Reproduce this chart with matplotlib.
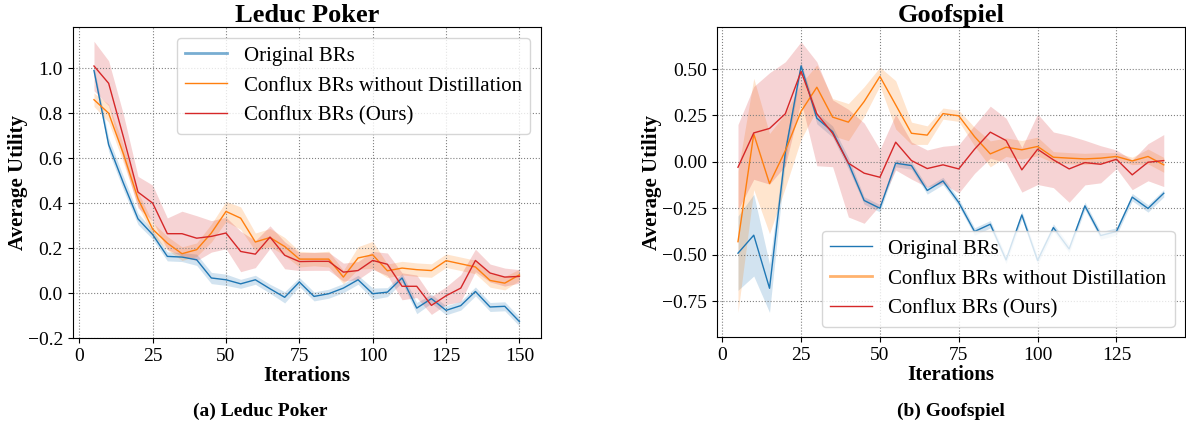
import numpy as np
import matplotlib
matplotlib.use('Agg')
import matplotlib.pyplot as plt

plt.rcParams['font.family'] = ['Liberation Serif', 'DejaVu Serif']

# Leduc Poker
leduc_x = list(range(5, 155, 5))
leduc_orig = [0.99, 0.66, 0.49, 0.33, 0.26, 0.163, 0.16, 0.148, 0.067, 0.059,
              0.041, 0.059, 0.019, -0.019, 0.049, -0.015, -0.003, 0.022, 0.059, -0.003,
              0.004, 0.067, -0.067, -0.025, -0.077, -0.056, 0.007, -0.062, -0.059, -0.127]
leduc_orig_sd = [0.02, 0.03, 0.03, 0.025, 0.02, 0.02, 0.02, 0.025, 0.025, 0.025,
                 0.02, 0.02, 0.02, 0.025, 0.02, 0.02, 0.02, 0.02, 0.02, 0.025,
                 0.02, 0.02, 0.025, 0.02, 0.02, 0.02, 0.02, 0.02, 0.02, 0.02]
leduc_nodist = [0.86, 0.80, 0.62, 0.42, 0.284, 0.222, 0.175, 0.193, 0.267, 0.363,
                0.333, 0.227, 0.247, 0.207, 0.151, 0.151, 0.151, 0.071, 0.156, 0.17,
                0.099, 0.111, 0.104, 0.10, 0.144, 0.13, 0.116, 0.056, 0.044, 0.081]
leduc_nodist_sd = [0.03, 0.04, 0.04, 0.03, 0.03, 0.03, 0.03, 0.03, 0.04, 0.045,
                   0.05, 0.04, 0.04, 0.04, 0.035, 0.03, 0.035, 0.03, 0.05, 0.06,
                   0.03, 0.03, 0.03, 0.03, 0.03, 0.03, 0.03, 0.03, 0.03, 0.025]
leduc_ours = [1.01, 0.933, 0.696, 0.449, 0.40, 0.264, 0.264, 0.244, 0.252, 0.267,
              0.185, 0.173, 0.249, 0.168, 0.14, 0.141, 0.141, 0.093, 0.10, 0.145,
              0.128, 0.03, 0.03, -0.055, -0.012, 0.022, 0.145, 0.089, 0.071, 0.044]
leduc_ours = leduc_ours[:29] + [0.074]
leduc_ours_sd = [0.11, 0.1, 0.1, 0.07, 0.08, 0.07, 0.1, 0.1, 0.07, 0.07,
                 0.09, 0.06, 0.05, 0.06, 0.04, 0.04, 0.04, 0.04, 0.04, 0.04,
                 0.05, 0.06, 0.05, 0.04, 0.04, 0.06, 0.05, 0.04, 0.04, 0.03]

# Goofspiel
goof_x = list(range(5, 145, 5))
goof_orig = [-0.492, -0.395, -0.681, 0.05, 0.517, 0.235, 0.163, -0.007, -0.208, -0.25,
             -0.007, -0.02, -0.154, -0.103, -0.219, -0.375, -0.336, -0.528, -0.286, -0.531,
             -0.354, -0.469, -0.237, -0.397, -0.375, -0.19, -0.251, -0.169]
goof_orig_sd = [0.2, 0.22, 0.13, 0.05, 0.02, 0.03, 0.03, 0.03, 0.02, 0.02,
                0.02, 0.02, 0.02, 0.02, 0.02, 0.02, 0.02, 0.02, 0.02, 0.02,
                0.02, 0.02, 0.02, 0.02, 0.02, 0.02, 0.02, 0.02]
goof_nodist = [-0.43, 0.15, -0.117, 0.06, 0.272, 0.402, 0.241, 0.214, 0.325, 0.46,
               0.307, 0.154, 0.144, 0.26, 0.248, 0.136, 0.043, 0.079, 0.065, 0.083,
               0.025, 0.02, 0.016, 0.02, 0.029, 0.005, 0.029, -0.016]
goof_nodist_sd = [0.38, 0.3, 0.27, 0.2, 0.15, 0.12, 0.1, 0.1, 0.08, 0.05,
                  0.13, 0.06, 0.05, 0.03, 0.03, 0.05, 0.07, 0.05, 0.05, 0.05,
                  0.03, 0.03, 0.03, 0.03, 0.02, 0.02, 0.04, 0.04]
goof_ours = [-0.029, 0.156, 0.18, 0.259, 0.487, 0.259, 0.154, -0.007, -0.061, -0.083,
             0.106, 0.007, -0.036, -0.016, -0.038, 0.068, 0.16, 0.115, -0.043, 0.068,
             0.011, -0.038, -0.004, -0.013, 0.014, -0.07, -0.002, 0.007]
goof_ours_sd = [0.23, 0.25, 0.3, 0.28, 0.16, 0.28, 0.18, 0.29, 0.27, 0.15,
                0.15, 0.1, 0.1, 0.1, 0.13, 0.13, 0.14, 0.12, 0.12, 0.19,
                0.15, 0.18, 0.12, 0.1, 0.05, 0.08, 0.1, 0.14]

labels = ['Original BRs', 'Conflux BRs without Distillation', 'Conflux BRs (Ours)']
colors = ['tab:blue', 'tab:orange', 'tab:red']


def draw(ax, x, series, title, ylim, legend_loc, thick_handle):
    x = np.array(x)
    for (mean, sd), label, c in zip(series, labels, colors):
        mean = np.array(mean)
        sd = np.array(sd)
        ax.plot(x, mean, color=c, lw=1.0, label=label)
        ax.fill_between(x, mean - sd, mean + sd, color=c, alpha=0.2, lw=0)
    ax.set_title(title, fontsize=19, fontweight='bold', pad=4)
    ax.set_xlabel('Iterations', fontsize=15, fontweight='bold', labelpad=1)
    ax.set_ylabel('Average Utility', fontsize=15, fontweight='bold', labelpad=0)
    ax.set_ylim(ylim)
    ax.set_xticks([0, 25, 50, 75, 100, 125, 150] if x[-1] == 150 else [0, 25, 50, 75, 100, 125])
    ax.tick_params(labelsize=14)
    ax.grid(True, linestyle=':', color='gray', lw=0.8)
    leg = ax.legend(loc=legend_loc, fontsize=15, framealpha=0.8)
    leg.get_lines()[thick_handle].set_linewidth(2.0)
    leg.get_lines()[thick_handle].set_alpha(0.6)


fig = plt.figure(figsize=(11.86, 4.25), dpi=100)
ax1 = fig.add_axes([0.0613, 0.2047, 0.3946, 0.731])
ax2 = fig.add_axes([0.6043, 0.2064, 0.3949, 0.7294])

draw(ax1, leduc_x,
     [(leduc_orig, leduc_orig_sd), (leduc_nodist, leduc_nodist_sd), (leduc_ours, leduc_ours_sd)],
     'Leduc Poker', (-0.2, 1.182), 'upper right', 0)
draw(ax2, goof_x,
     [(goof_orig, goof_orig_sd), (goof_nodist, goof_nodist_sd), (goof_ours, goof_ours_sd)],
     'Goofspiel', (-0.945, 0.725), 'lower right', 1)

fig.text(0.2192, 0.033, '(a) Leduc Poker', ha='center', va='center', fontsize=14, fontweight='bold')
fig.text(0.802, 0.033, '(b) Goofspiel', ha='center', va='center', fontsize=14, fontweight='bold')

fig.savefig('out.png', dpi=100)
